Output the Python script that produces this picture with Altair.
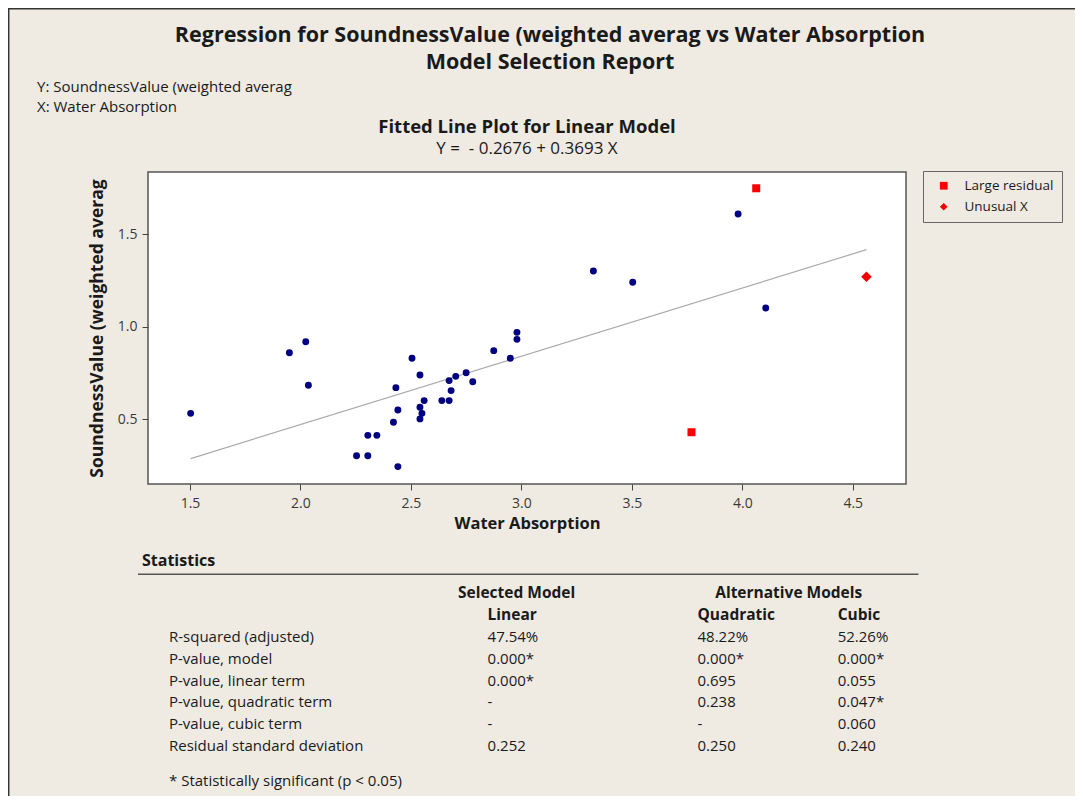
import altair as alt
import pandas as pd

# ---------------- data ----------------
water_absorption = [1.503, 1.950, 2.024, 2.036, 2.505, 2.541, 2.432, 2.441, 2.421, 2.541,
                    2.550, 2.541, 2.560, 2.640, 2.673, 2.682, 2.673, 2.703, 2.750, 2.780,
                    2.875, 2.950, 2.980, 2.980, 2.305, 2.346, 2.254, 2.305, 2.441, 3.326,
                    3.504, 3.981, 4.106]
soundness = [0.532, 0.860, 0.919, 0.684, 0.830, 0.739, 0.671, 0.550, 0.484, 0.565,
             0.532, 0.502, 0.601, 0.601, 0.601, 0.655, 0.709, 0.732, 0.752, 0.703,
             0.871, 0.830, 0.970, 0.932, 0.413, 0.413, 0.303, 0.303, 0.244, 1.302,
             1.241, 1.610, 1.102]

flag_x = [4.063, 3.770, 4.562]
flag_y = [1.749, 0.430, 1.271]
flag_type = ["Large residual", "Large residual", "Unusual X"]
flag_kinds = ["Large residual", "Unusual X"]

intercept = -0.2676
slope = 0.3693
fit_x = [1.503, 4.562]

row_labels = ["R-squared (adjusted)", "P-value, model", "P-value, linear term",
              "P-value, quadratic term", "P-value, cubic term", "Residual standard deviation"]
linear_vals = ["47.54%", "0.000*", "0.000*", "-", "-", "0.252"]
quadratic_vals = ["48.22%", "0.000*", "0.695", "0.238", "-", "0.250"]
cubic_vals = ["52.26%", "0.000*", "0.055", "0.047*", "0.060", "0.240"]
model_names = ["Linear", "Quadratic", "Cubic"]
group_names = ["Selected Model", "Alternative Models"]

title1 = "Regression for SoundnessValue (weighted averag vs Water Absorption"
title2 = "Model Selection Report"
y_note = "Y: SoundnessValue (weighted averag"
x_note = "X: Water Absorption"
sub1 = "Fitted Line Plot for Linear Model"
sub2 = "Y =\u00a0\u00a0- 0.2676 + 0.3693 X"
footnote = "* Statistically significant (p < 0.05)"

# ---------------- styling ----------------
FONT = "Open Sans"
BG = "#EFEBE3"
TXT = "#1a1a1a"

W, H = 758, 312
xdom = [1.310, 4.741]
ydom = [0.150, 1.837]

pts = pd.DataFrame({"x": water_absorption, "y": soundness})
flags = pd.DataFrame({"x": flag_x, "y": flag_y, "type": flag_type})
fit = pd.DataFrame({"x": fit_x})

xenc = alt.X("x:Q", scale=alt.Scale(domain=xdom, nice=False, zero=False),
             axis=alt.Axis(title="Water Absorption", values=[1.5, 2.0, 2.5, 3.0, 3.5, 4.0, 4.5],
                           format=".1f", grid=False, domain=False, tickSize=6,
                           tickColor="#444", labelPadding=6, titlePadding=5,
                           labelFontSize=14, titleFontSize=16.5, labelColor="#3a3a3a",
                           titleFontWeight="bold", titleColor=TXT))
yenc = alt.Y("y:Q", scale=alt.Scale(domain=ydom, nice=False, zero=False),
             axis=alt.Axis(title="SoundnessValue (weighted averag", values=[0.5, 1.0, 1.5],
                           format=".1f", grid=False, domain=False, tickSize=6,
                           tickColor="#444", labelPadding=5, titlePadding=11,
                           labelFontSize=14, titleFontSize=17.5, labelColor="#3a3a3a",
                           titleFontWeight="bold", titleColor=TXT))

color_enc = alt.Color("type:N", scale=alt.Scale(domain=flag_kinds, range=["#FF0000", "#F20000"]),
                      legend=alt.Legend(title=None, orient="none", legendX=775, legendY=-1,
                                        strokeColor="#666", fillColor=BG, padding=8,
                                        labelFontSize=13.5, labelFont=FONT, labelColor=TXT,
                                        symbolSize=60, rowPadding=6, labelOffset=14,
                                        symbolOffset=6))
shape_enc = alt.Shape("type:N", scale=alt.Scale(domain=flag_kinds, range=["square", "diamond"]),
                      legend=alt.Legend(title=None, orient="none", legendX=775, legendY=-1))

fit_line = alt.Chart(fit).transform_calculate(
    y=f"{intercept} + {slope} * datum.x"
).mark_line(color="#AAAAAA", strokeWidth=1.2).encode(x=xenc, y=yenc)

blue = alt.Chart(pts).mark_point(filled=True, shape="circle", size=48,
                                 color="#000080", opacity=1).encode(x=xenc, y=yenc)

red_sq = alt.Chart(flags).transform_filter(
    alt.datum.type == flag_kinds[0]
).mark_point(filled=True, size=64, opacity=1).encode(
    x=xenc, y=yenc, color=color_enc, shape=shape_enc)

red_dm = alt.Chart(flags).transform_filter(
    alt.datum.type == flag_kinds[1]
).mark_point(filled=True, size=110, opacity=1).encode(
    x=xenc, y=yenc, color=color_enc, shape=shape_enc)

scatter = alt.layer(fit_line, blue, red_sq, red_dm)

one = pd.DataFrame({"a": [0]})


def label(text, x, y, size=13, weight="normal", align="left"):
    return alt.Chart(pd.DataFrame({"t": [text]})).mark_text(
        font=FONT, fontSize=size, fontWeight=weight, align=align,
        baseline="middle", color=TXT
    ).encode(text="t:N", x=alt.value(x), y=alt.value(y))


texts = [
    label(title1, 402, -136, 21.5, "bold", "center"),
    label(title2, 402, -109, 21.5, "bold", "center"),
    label(y_note, -111, -85, 15),
    label(x_note, -111, -65, 15),
    label(sub1, 379, -45, 18.5, "bold", "center"),
    label(sub2, 379, -23, 17, "normal", "center"),
    label("Statistics", -6, 389, 16, "bold"),
    label(footnote, 21, 609, 15),
]

# table rows (headers + statistics) on a point scale
row_keys = ["group", "model"] + row_labels
yrow = alt.Y("key:N", scale=alt.Scale(domain=row_keys, range=[421.3, 574], padding=0), axis=None)


def column(keys, vals, x, align="left", weight="normal", size=15):
    df = pd.DataFrame({"key": keys, "t": vals})
    return alt.Chart(df).mark_text(font=FONT, fontSize=size, align=align, fontWeight=weight,
                                   baseline="middle", color=TXT).encode(
        text="t:N", x=alt.value(x), y=yrow)


table = [
    column(row_labels, row_labels, 21),
    column(row_labels, linear_vals, 339.6),
    column(row_labels, quadratic_vals, 549.5),
    column(row_labels, cubic_vals, 689.7),
    column(["model"], [model_names[0]], 339.6, weight="bold", size=15.5),
    column(["model"], [model_names[1]], 549.5, weight="bold", size=15.5),
    column(["model"], [model_names[2]], 689.7, weight="bold", size=15.5),
    column(["group"], [group_names[0]], 368.6, "center", "bold", 15.5),
    column(["group"], [group_names[1]], 640.7, "center", "bold", 15.5),
]

# frame lines: outer border and statistics separator
rules = [
    alt.Chart(one).mark_rule(color="#555", strokeWidth=1.5).encode(
        x=alt.value(-10), x2=alt.value(770.5), y=alt.value(402.3)),
    alt.Chart(one).mark_rule(color="#333", strokeWidth=1.5).encode(
        x=alt.value(-139.3), y=alt.value(-164), y2=alt.value(640)),
    alt.Chart(one).mark_rule(color="#333", strokeWidth=1.5).encode(
        x=alt.value(-140), x2=alt.value(930), y=alt.value(-163.3)),
]

chart = alt.layer(scatter, *texts, *table, *rules).resolve_scale(
    y="independent"
).properties(
    width=W, height=H,
    padding={"left": 140, "top": 164, "right": 169, "bottom": 312},
    autosize=alt.AutoSizeParams(type="none"),
    background=BG,
).configure_view(
    fill="white", stroke="#555", strokeWidth=1.5
).configure_axis(
    labelFont=FONT, titleFont=FONT
)

chart.save("out.html", embed_options={"renderer": "svg", "actions": False})
